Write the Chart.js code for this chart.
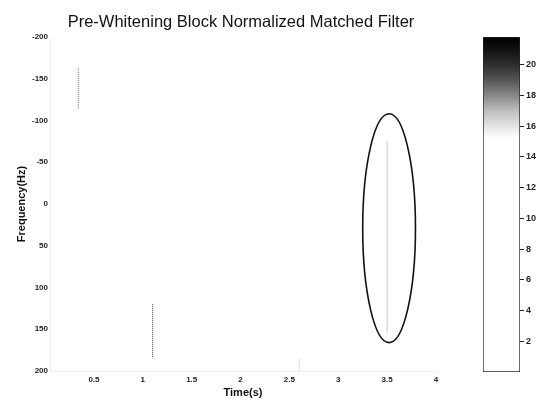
<!DOCTYPE html>
<html lang="en">
<head>
<meta charset="UTF-8">
<title>Pre-Whitening Block Normalized Matched Filter</title>
<script src="https://cdn.jsdelivr.net/npm/chart.js"></script>
<style>
  body { margin: 0; background: #fff; }
  #wrap { position: relative; width: 537px; height: 400px; }
  #main { position: absolute; left: 0; top: 0; }
  #cbar { position: absolute; left: 460px; top: 0; }
</style>
</head>
<body>
<div id="wrap">
  <canvas id="main" width="480" height="400"></canvas>
  <canvas id="cbar" width="77" height="400"></canvas>
</div>
<script>
// detections: time (s), frequency span (Hz)
const segTimes = [0.34, 1.1, 3.5, 2.6];
const segFreqLow = [-163, 120, -75, 186];
const segFreqHigh = [-114, 185, 154, 200];
const segColors = ['#777', '#444', '#999', '#bbb'];

const xTicks = [0.5, 1, 1.5, 2, 2.5, 3, 3.5, 4];
const yTicks = [-200, -150, -100, -50, 0, 50, 100, 150, 200];
const cbTicks = [2, 4, 6, 8, 10, 12, 14, 16, 18, 20];
const cbRange = [0, 21.8];

// highlight ellipse around the 3.5 s detection
const ellipseCenter = [3.52, 29];
const ellipseRadii = [0.27, 137];

const tickFont = { family: 'Liberation Sans', size: 8, weight: 'bold' };

const extras = {
  id: 'extras',
  afterDatasetsDraw(chart) {
    const { ctx, scales } = chart;
    const cx = scales.x.getPixelForValue(ellipseCenter[0]);
    const cy = scales.y.getPixelForValue(ellipseCenter[1]);
    const rx = Math.abs(scales.x.getPixelForValue(ellipseCenter[0] + ellipseRadii[0]) - cx);
    const ry = Math.abs(scales.y.getPixelForValue(ellipseCenter[1] + ellipseRadii[1]) - cy);
    ctx.save();
    ctx.beginPath();
    ctx.ellipse(cx, cy, rx, ry, 0, 0, Math.PI * 2);
    ctx.strokeStyle = '#111';
    ctx.lineWidth = 1.6;
    ctx.stroke();
    ctx.restore();
  },
  afterDraw(chart) {
    const { ctx, chartArea } = chart;
    ctx.save();
    ctx.font = '16.5px "Liberation Sans"';
    ctx.fillStyle = '#111';
    ctx.textAlign = 'center';
    ctx.textBaseline = 'middle';
    ctx.fillText('Pre-Whitening Block Normalized Matched Filter', (chartArea.left + chartArea.right) / 2 - 2, 22);
    ctx.restore();
  }
};

const datasets = segTimes.map((t, i) => ({
  data: [{ x: t, y: segFreqLow[i] }, { x: t, y: segFreqHigh[i] }],
  borderColor: segColors[i],
  borderWidth: 1,
  borderDash: [1, 1],
  pointRadius: 0,
  showLine: true
}));

new Chart(document.getElementById('main'), {
  type: 'scatter',
  data: { datasets },
  options: {
    responsive: false,
    animation: false,
    layout: { padding: { top: 37, right: 44, bottom: 0, left: 0 } },
    plugins: { legend: { display: false }, tooltip: { enabled: false } },
    scales: {
      x: {
        type: 'linear', min: 0.05, max: 4,
        afterBuildTicks: s => { s.ticks = xTicks.map(v => ({ value: v })); },
        afterFit: s => { s.height = 29; },
        grid: { display: false, drawTicks: false },
        border: { color: '#eee' },
        ticks: { font: tickFont, color: '#222', padding: 4, maxRotation: 0, callback: v => String(v) },
        title: { display: true, text: 'Time(s)', font: { family: 'Liberation Sans', size: 11, weight: 'bold' }, color: '#111', padding: 0 }
      },
      y: {
        type: 'linear', min: -200, max: 200, reverse: true,
        afterBuildTicks: s => { s.ticks = yTicks.map(v => ({ value: v })); },
        afterFit: s => { s.width = 50; },
        grid: { display: false, drawTicks: false },
        border: { color: '#eee' },
        ticks: { font: tickFont, color: '#222', padding: 2 },
        title: { display: true, text: 'Frequency(Hz)', font: { family: 'Liberation Sans', size: 11, weight: 'bold' }, color: '#111', padding: { top: 15, bottom: 0 } }
      }
    }
  },
  plugins: [extras]
});

// colorbar
const cbStops = [[0, '#fff'], [15.2, '#fff'], [16, '#e4e4e4'], [17, '#bdbdbd'], [18, '#888'], [19, '#555'], [20, '#2e2e2e'], [21, '#111'], [21.8, '#000']];

new Chart(document.getElementById('cbar'), {
  type: 'bar',
  data: {
    labels: [''],
    datasets: [{
      data: [cbRange],
      backgroundColor: ctx => {
        const { chart } = ctx;
        if (!chart.chartArea) return '#fff';
        const y = chart.scales.y;
        const g = chart.ctx.createLinearGradient(0, y.getPixelForValue(cbRange[0]), 0, y.getPixelForValue(cbRange[1]));
        cbStops.forEach(([v, c]) => g.addColorStop((v - cbRange[0]) / (cbRange[1] - cbRange[0]), c));
        return g;
      },
      borderColor: '#222',
      borderWidth: 1,
      borderSkipped: false,
      barPercentage: 1,
      categoryPercentage: 1
    }]
  },
  options: {
    responsive: false,
    animation: false,
    layout: { padding: { top: 37, right: 0, bottom: 28, left: 23 } },
    plugins: { legend: { display: false }, tooltip: { enabled: false } },
    scales: {
      x: { display: false },
      y: {
        position: 'right', min: cbRange[0], max: cbRange[1],
        afterBuildTicks: s => { s.ticks = cbTicks.map(v => ({ value: v })); },
        afterFit: s => { s.width = 17; },
        grid: { drawOnChartArea: false, tickLength: 4, color: '#222' },
        border: { display: false },
        ticks: { font: { family: 'Liberation Sans', size: 9, weight: 'bold' }, color: '#222', padding: 2 }
      }
    }
  }
});
</script>
</body>
</html>
